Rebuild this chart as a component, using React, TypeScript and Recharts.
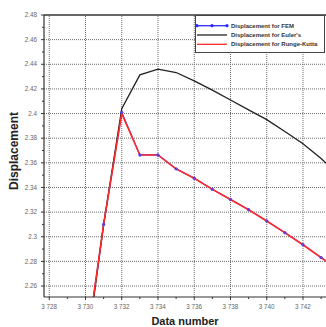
import React from 'react';
import { LineChart, Line, XAxis, YAxis, ReferenceLine, Legend } from 'recharts';

const dataNumbers = [3730, 3731, 3732, 3733, 3734, 3735, 3736, 3737, 3738, 3739, 3740, 3741, 3742, 3743, 3744];
const femValues = [2.205, 2.31, 2.401, 2.3664, 2.3664, 2.3551, 2.3475, 2.3385, 2.3303, 2.3219, 2.3128, 2.3033, 2.2935, 2.2831, 2.2727];
const eulerValues = [2.2, 2.31, 2.404, 2.4314, 2.436, 2.4333, 2.4265, 2.419, 2.411, 2.403, 2.3951, 2.3855, 2.3755, 2.3635, 2.35];
const rkValues = [2.205, 2.31, 2.4, 2.3664, 2.3664, 2.3551, 2.3475, 2.3385, 2.3303, 2.3219, 2.3128, 2.3033, 2.2935, 2.2831, 2.2727];

const xMajorTicks = [3728, 3730, 3732, 3734, 3736, 3738, 3740, 3742];
const xAllTicks = [3728, 3729, 3730, 3731, 3732, 3733, 3734, 3735, 3736, 3737, 3738, 3739, 3740, 3741, 3742, 3743];
const yMajorTicks = [2.26, 2.28, 2.3, 2.32, 2.34, 2.36, 2.38, 2.4, 2.42, 2.44, 2.46, 2.48];
const yAllTicks = [2.26, 2.27, 2.28, 2.29, 2.3, 2.31, 2.32, 2.33, 2.34, 2.35, 2.36, 2.37, 2.38, 2.39, 2.4, 2.41, 2.42, 2.43, 2.44, 2.45, 2.46, 2.47, 2.48];

const legendItems = [
  { label: 'Displacement for FEM', color: '#2b2bff', dots: true },
  { label: "Displacement for Euler's", color: '#222222', dots: false },
  { label: 'Displacement for Runge-Kutta', color: '#ff2a2a', dots: false },
];

const data = dataNumbers.map((n, i) => ({ n, fem: femValues[i], euler: eulerValues[i], rk: rkValues[i] }));

const isIn = (arr: number[], v: number) => arr.some((a) => Math.abs(a - v) < 1e-6);
const fmtX = (v: number) => String(v).replace(/(\d)(\d{3})$/, '$1 $2');

const FONT = 'Liberation Sans, Arial, sans-serif';

const XTick = (props: any) => {
  const { x, y, payload } = props;
  const major = isIn(xMajorTicks, payload.value);
  return (
    <g>
      <line x1={x} x2={x} y1={y} y2={y + (major ? 3 : 2)} stroke="#333" strokeWidth={1} />
      {major && (
        <text x={x} y={y + 12} textAnchor="middle" fontSize={6.3} fill="#666" fontFamily={FONT}>
          {fmtX(payload.value)}
        </text>
      )}
    </g>
  );
};

const YTick = (props: any) => {
  const { x, y, payload } = props;
  const major = isIn(yMajorTicks, payload.value);
  return (
    <g>
      <line x1={x - (major ? 3 : 2)} x2={x} y1={y} y2={y} stroke="#333" strokeWidth={1} />
      {major && (
        <text x={x - 7} y={y + 2.2} textAnchor="end" fontSize={6.3} fill="#666" fontFamily={FONT}>
          {String(payload.value)}
        </text>
      )}
    </g>
  );
};

const LegendBox = () => (
  <div style={{ width: 130, height: 38, border: '1px solid #444', background: '#fff', boxSizing: 'border-box' }}>
    <svg width={128} height={36} style={{ display: 'block' }}>
      {legendItems.map((it, i) => {
        const cy = 9.7 + i * 9.3;
        return (
          <g key={it.label}>
            <line x1={1} x2={31} y1={cy} y2={cy} stroke={it.color} strokeWidth={1.3} />
            {it.dots && [1, 16, 31].map((cx) => <circle key={cx} cx={cx} cy={cy} r={1.6} fill={it.color} />)}
            <text x={35} y={cy + 2} fontSize={6} fontWeight="bold" fill="#333" fontFamily={FONT}>
              {it.label}
            </text>
          </g>
        );
      })}
    </svg>
  </div>
);

export default function App() {
  return (
    <div style={{ position: 'absolute', left: 0, top: 0, width: 326, height: 327, background: '#fff' }}>
      <LineChart width={326} height={327} data={data} margin={{ top: 15, right: 0, bottom: 0, left: 0 }}>
        <XAxis
          dataKey="n"
          type="number"
          domain={[3727.71, 3743.27]}
          allowDataOverflow
          ticks={xAllTicks}
          interval={0}
          height={30}
          tickSize={0}
          tickMargin={0}
          tickLine={false}
          tick={<XTick />}
          axisLine={{ stroke: '#333', strokeWidth: 1.2 }}
          label={{
            content: (p: any) => {
              const vb = p.viewBox;
              return (
                <text x={vb.x + vb.width / 2} y={vb.y + 28} textAnchor="middle" fontSize={11} fontWeight="bold" fill="#222" fontFamily={FONT}>
                  Data number
                </text>
              );
            },
          }}
        />
        <YAxis
          type="number"
          domain={[2.2511, 2.48]}
          allowDataOverflow
          ticks={yAllTicks}
          interval={0}
          width={44}
          tickSize={0}
          tickMargin={0}
          tickLine={false}
          tick={<YTick />}
          axisLine={{ stroke: '#333', strokeWidth: 1.2 }}
          label={{
            content: () => {
              const cx = 18;
              const cy = 151;
              return (
                <text x={cx} y={cy} transform={`rotate(-90 ${cx} ${cy})`} textAnchor="middle" fontSize={12} fontWeight="bold" fill="#222" fontFamily={FONT}>
                  Displacement
                </text>
              );
            },
          }}
        />
        {xMajorTicks.map((v) => (
          <ReferenceLine key={'gx' + v} x={v} stroke="#6a6a6a" strokeDasharray="1 1" strokeWidth={1} />
        ))}
        {yMajorTicks.filter((v) => v < 2.475).map((v) => (
          <ReferenceLine key={'gy' + v} y={v} stroke="#6a6a6a" strokeDasharray="1 1" strokeWidth={1} />
        ))}
        <ReferenceLine y={2.48} stroke="#333" strokeWidth={1.5} />
        <Line type="linear" dataKey="fem" stroke="#2b2bff" strokeWidth={1.2} dot={false} isAnimationActive={false} />
        <Line type="linear" dataKey="euler" stroke="#222" strokeWidth={1.3} dot={false} isAnimationActive={false} />
        <Line type="linear" dataKey="rk" stroke="#ff2a2a" strokeWidth={1.6} dot={false} isAnimationActive={false} />
        <Line
          type="linear"
          dataKey="fem"
          stroke="none"
          dot={{ r: 1.7, fill: '#5a3ae0', fillOpacity: 0.9, stroke: 'none' }}
          isAnimationActive={false}
        />
        <Legend
          layout="vertical"
          align="center"
          verticalAlign="middle"
          content={() => <LegendBox />}
          wrapperStyle={{ top: 15, left: 195, width: 130, height: 38 }}
        />
      </LineChart>
    </div>
  );
}
